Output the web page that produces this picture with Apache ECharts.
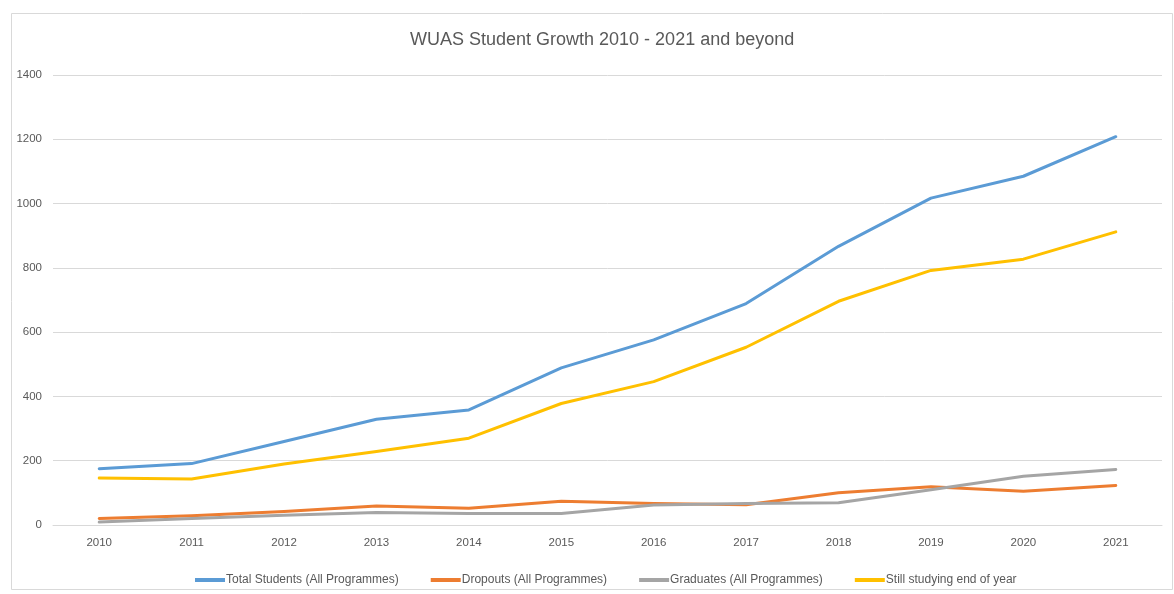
<!DOCTYPE html>
<html>
<head>
<meta charset="utf-8">
<script src="https://cdn.jsdelivr.net/npm/echarts@6/dist/echarts.min.js"></script>
<style>html,body{margin:0;padding:0;background:#fff;}#c{width:1174px;height:594px;}</style>
</head>
<body>
<div id="c"></div>
<script>
const years = ['2010','2011','2012','2013','2014','2015','2016','2017','2018','2019','2020','2021'];
const totalStudents = [175, 191, 260, 329, 358, 489, 576, 689, 867, 1017, 1085, 1208];
const dropouts = [20, 29, 42, 59, 52, 74, 67, 63, 100, 119, 105, 123];
const graduates = [9, 20, 30, 39, 36, 36, 62, 67, 69, 110, 152, 173];
const stillStudying = [146, 143, 190, 229, 270, 378, 446, 553, 696, 792, 827, 912];
const yTicks = { min: 0, max: 1400, interval: 200 };

const FONT = '"Liberation Sans", "DejaVu Sans", sans-serif';
const chart = echarts.init(document.getElementById('c'), null, { renderer: 'canvas' });
function mk(name, data, color) {
  return { name, type: 'line', data, symbol: 'none', showSymbol: false,
    lineStyle: { color, width: 3, cap: 'round', join: 'round' }, itemStyle: { color } };
}
chart.setOption({
  animation: false,
  backgroundColor: '#fff',
  graphic: [{ type: 'rect', shape: { x: 11.5, y: 13.5, width: 1161, height: 576 },
    style: { fill: 'none', stroke: '#D9D9D9', lineWidth: 1 }, silent: true, z: -1 }],
  title: { text: 'WUAS Student Growth 2010 - 2021 and beyond', left: 405, top: 26,
    textStyle: { fontFamily: FONT, fontSize: 18, fontWeight: 'normal', color: '#595959' } },
  legend: { bottom: 3, left: 190, itemGap: 32, itemWidth: 30, itemHeight: 4, icon: 'rect',
    textStyle: { fontFamily: FONT, fontSize: 12, color: '#595959', padding: [0, 0, 0, -4] },
    data: ['Total Students (All Programmes)', 'Dropouts (All Programmes)', 'Graduates (All Programmes)', 'Still studying end of year'] },
  grid: { left: 53, right: 12, top: 75, bottom: 69, containLabel: false },
  xAxis: { type: 'category', data: years, boundaryGap: true,
    axisLine: { show: true, lineStyle: { color: '#D9D9D9', width: 1 } }, axisTick: { show: false },
    axisLabel: { fontFamily: FONT, fontSize: 11.5, color: '#595959', margin: 12 } },
  yAxis: { type: 'value', min: yTicks.min, max: yTicks.max, interval: yTicks.interval,
    axisLine: { show: false }, axisTick: { show: false },
    splitLine: { lineStyle: { color: '#D9D9D9', width: 1 } },
    axisLabel: { fontFamily: FONT, fontSize: 11.5, color: '#595959', margin: 11, formatter: v => String(v) } },
  series: [
    mk('Total Students (All Programmes)', totalStudents, '#5B9BD5'),
    mk('Dropouts (All Programmes)', dropouts, '#ED7D31'),
    mk('Graduates (All Programmes)', graduates, '#A5A5A5'),
    mk('Still studying end of year', stillStudying, '#FFC000')
  ]
});
</script>
</body>
</html>
